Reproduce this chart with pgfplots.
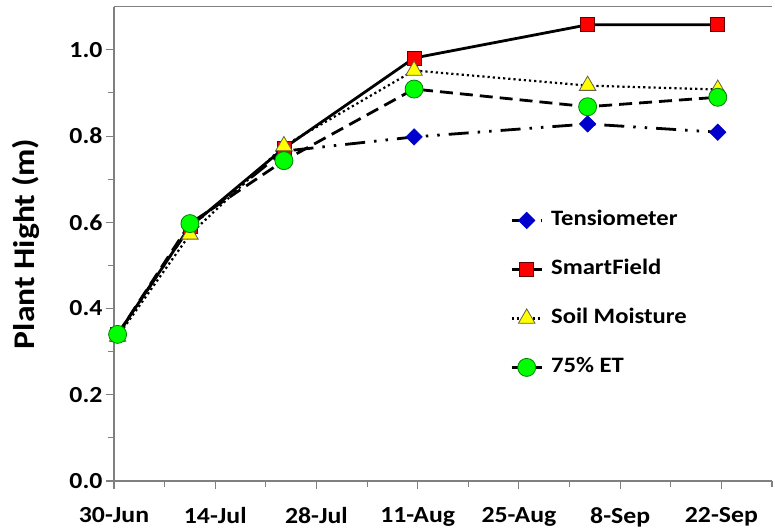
\documentclass[border=0pt]{standalone}
\usepackage{pgfplots}
\pgfplotsset{compat=1.18}
\usepackage{fontspec}
\setmainfont{Carlito}[FakeStretch=1.12]
\definecolor{axisgray}{RGB}{128,128,128}
\definecolor{tblue}{RGB}{0,0,204}
\definecolor{sred}{RGB}{255,0,0}
\definecolor{syellow}{RGB}{255,255,0}
\definecolor{egreen}{RGB}{0,255,0}
\begin{document}
\begin{tikzpicture}
\useasboundingbox (-114pt,-50pt) rectangle (661pt,481pt);
\begin{axis}[
  scale only axis, width=658pt, height=474.3pt,
  xmin=0, xmax=91, ymin=0, ymax=1.1,
  axis x line*=bottom, axis y line*=left,
  axis line style={axisgray, line width=1.3pt},
  xtick={0,14,28,42,56,70,84},
  xticklabels={30-Jun,14-Jul,28-Jul,11-Aug,25-Aug,8-Sep,22-Sep},
  minor xtick={7,21,35,49,63,77,91},
  ytick={0,0.2,0.4,0.6,0.8,1.0},
  yticklabels={0.0,0.2,0.4,0.6,0.8,1.0},
  minor ytick={0.1,0.3,0.5,0.7,0.9},
  tick align=outside,
  major tick length=8pt, minor tick length=5.5pt,
  tick style={axisgray, line width=1.1pt},
  tick label style={font=\bfseries\fontsize{23}{23}\selectfont, text=black},
  xticklabel style={yshift=-15pt},
  ylabel={Plant Hight (m)},
  ylabel style={font=\bfseries\fontsize{30}{30}\selectfont, at={(axis description cs:-0.1337,0.5)}, anchor=center},
  legend style={at={(rel axis cs:0.602,0.572)}, anchor=north west, draw=none, fill=none,
    inner sep=0pt, row sep=28pt, font=\bfseries\fontsize{22}{22}\selectfont,
    nodes={inner sep=0pt, text height=16pt, text depth=5pt, anchor=west},
    /tikz/every odd column/.style={column sep=8pt}},
  legend cell align=left,
  legend image code/.code={\draw[mark repeat=2,mark phase=2,#1] plot coordinates {(0pt,0pt) (15pt,0pt) (30pt,0pt)};},
  clip=false,
]
\addplot[black, line width=2.8pt, dash pattern=on 20pt off 9pt on 2.5pt off 9pt on 2.5pt off 9pt,
  mark=square*, mark size=5.8pt, mark options={solid, fill=tblue, draw=tblue, rotate=45, line width=0.6pt}]
  coordinates {(0.5,0.34) (10.5,0.59) (23.5,0.765) (41.5,0.798) (65.5,0.828) (83.5,0.809)};
\addlegendentry{Tensiometer}
\addplot[black, line width=2.8pt,
  mark=square*, mark size=7pt, mark options={solid, fill=sred, draw=black!60!red, line width=0.8pt}]
  coordinates {(0.5,0.34) (10.5,0.59) (23.5,0.772) (41.5,0.981) (65.5,1.058) (83.5,1.058)};
\addlegendentry{SmartField}
\addplot[black, line width=2.2pt, dash pattern=on 2.2pt off 3pt,
  mark=triangle*, mark size=9.5pt, mark options={solid, fill=syellow, draw=black!50!yellow!60!black, line width=0.8pt}]
  coordinates {(0.5,0.335) (10.5,0.572) (23.5,0.777) (41.5,0.952) (65.5,0.917) (83.5,0.908)};
\addlegendentry{Soil Moisture}
\addplot[black, line width=2.8pt, dash pattern=on 13pt off 7pt,
  mark=*, mark size=9pt, mark options={solid, fill=egreen, draw=green!50!black, line width=0.8pt}]
  coordinates {(0.5,0.34) (10.5,0.597) (23.5,0.743) (41.5,0.909) (65.5,0.868) (83.5,0.89)};
\addlegendentry{75\% ET}
\draw[axisgray, line width=1.3pt] (rel axis cs:0,1) -- (rel axis cs:1,1);
\end{axis}
\end{tikzpicture}
\end{document}
